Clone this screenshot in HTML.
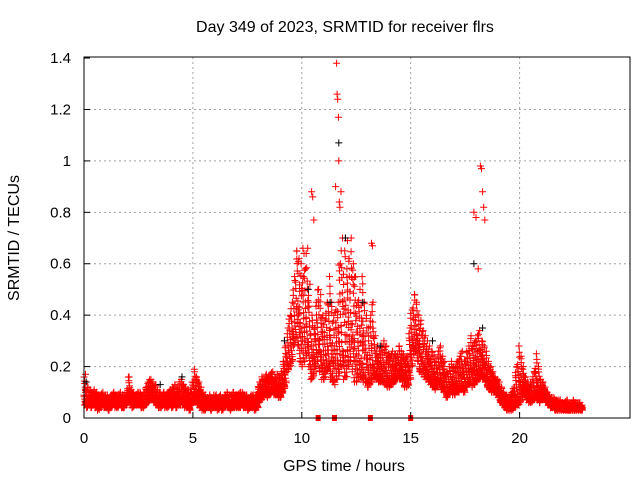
<!DOCTYPE html>
<html><head><meta charset="utf-8"><style>
body{margin:0;background:#fff}
svg{display:block;font-family:"Liberation Sans",sans-serif}
</style></head><body>
<svg id="chart" width="640" height="480">
<text x="345" y="32" text-anchor="middle" font-size="16">Day 349 of 2023, SRMTID for receiver flrs</text>
<text x="344" y="471" text-anchor="middle" font-size="16">GPS time / hours</text>
<text transform="translate(19,238) rotate(-90)" text-anchor="middle" font-size="16">SRMTID / TECUs</text>
<g id="grid"></g><g id="marks"></g><g id="axes"></g>
</svg>
<script>
const xTicks=[0,5,10,15,20];
const yTicks=[0,0.2,0.4,0.6,0.8,1,1.2,1.4];
const yTickLabels=["0","0.2","0.4","0.6","0.8","1","1.2","1.4"];
// per 0.1-hour bins starting at 0h: lower and upper envelope of SRMTID
const binLo=[
0.05,0.04,0.05,0.04,0.05,0.04,0.03,0.04,0.05,0.04,
0.04,0.03,0.04,0.05,0.04,0.04,0.05,0.04,0.04,0.05,
0.06,0.05,0.04,0.05,0.05,0.05,0.04,0.04,0.05,0.06,
0.07,0.07,0.06,0.05,0.04,0.04,0.05,0.04,0.04,0.05,
0.04,0.05,0.04,0.05,0.05,0.05,0.04,0.04,0.03,0.05,
0.06,0.07,0.05,0.04,0.03,0.03,0.04,0.04,0.03,0.04,
0.04,0.03,0.04,0.03,0.04,0.05,0.04,0.03,0.04,0.04,
0.04,0.04,0.05,0.04,0.04,0.03,0.04,0.04,0.03,0.04,
0.06,0.07,0.08,0.09,0.08,0.09,0.10,0.09,0.09,0.08,
0.08,0.10,0.12,0.18,0.20,0.22,0.28,0.30,0.28,0.22,
0.20,0.22,0.25,0.20,0.15,0.16,0.20,0.22,0.18,0.15,
0.15,0.18,0.20,0.15,0.14,0.13,0.15,0.18,0.20,0.15,
0.16,0.20,0.22,0.18,0.14,0.14,0.16,0.15,0.14,0.14,
0.12,0.13,0.14,0.15,0.15,0.14,0.14,0.14,0.13,0.12,
0.12,0.13,0.14,0.15,0.16,0.15,0.14,0.12,0.12,0.15,
0.20,0.25,0.26,0.22,0.18,0.17,0.16,0.15,0.14,0.13,
0.12,0.11,0.12,0.13,0.11,0.10,0.08,0.09,0.10,0.09,
0.09,0.10,0.10,0.11,0.10,0.12,0.13,0.14,0.12,0.13,
0.14,0.15,0.16,0.15,0.14,0.12,0.11,0.10,0.10,0.09,
0.08,0.06,0.05,0.04,0.03,0.03,0.03,0.04,0.05,0.05,
0.06,0.08,0.09,0.07,0.06,0.06,0.07,0.08,0.07,0.06,
0.07,0.08,0.06,0.05,0.04,0.04,0.03,0.03,0.03,0.03,
0.03,0.03,0.03,0.03,0.03,0.03,0.03,0.03,0.03];
const binHi=[
0.17,0.12,0.11,0.10,0.11,0.10,0.09,0.09,0.10,0.09,
0.09,0.08,0.09,0.10,0.09,0.09,0.10,0.09,0.09,0.10,
0.16,0.11,0.10,0.09,0.10,0.10,0.09,0.10,0.12,0.14,
0.15,0.14,0.13,0.11,0.10,0.09,0.10,0.09,0.10,0.11,
0.12,0.13,0.12,0.14,0.15,0.13,0.12,0.11,0.10,0.14,
0.19,0.16,0.14,0.12,0.10,0.09,0.08,0.09,0.08,0.09,
0.09,0.08,0.09,0.08,0.09,0.10,0.09,0.09,0.10,0.09,
0.09,0.10,0.10,0.09,0.09,0.08,0.09,0.09,0.08,0.10,
0.14,0.16,0.15,0.17,0.16,0.17,0.18,0.16,0.17,0.16,
0.18,0.22,0.28,0.35,0.40,0.45,0.55,0.65,0.62,0.60,
0.55,0.58,0.66,0.52,0.40,0.35,0.45,0.50,0.48,0.40,
0.38,0.45,0.55,0.45,0.40,0.42,0.45,0.60,0.70,0.65,
0.58,0.62,0.70,0.60,0.55,0.45,0.50,0.55,0.45,0.40,
0.35,0.40,0.45,0.32,0.28,0.26,0.28,0.30,0.28,0.25,
0.24,0.26,0.25,0.24,0.28,0.26,0.25,0.22,0.24,0.35,
0.42,0.48,0.45,0.40,0.38,0.34,0.32,0.30,0.28,0.26,
0.24,0.22,0.26,0.28,0.24,0.22,0.18,0.20,0.22,0.20,
0.20,0.22,0.24,0.26,0.22,0.26,0.28,0.32,0.28,0.30,
0.32,0.34,0.30,0.28,0.26,0.22,0.20,0.18,0.16,0.15,
0.14,0.12,0.10,0.09,0.08,0.08,0.10,0.12,0.20,0.28,
0.24,0.20,0.16,0.14,0.12,0.14,0.18,0.25,0.20,0.15,
0.14,0.12,0.10,0.09,0.08,0.08,0.07,0.07,0.07,0.06,
0.06,0.07,0.06,0.06,0.07,0.06,0.06,0.06,0.05];
// isolated spikes: time (h), value
const spikeT=[10.45,10.5,10.55,11.55,11.6,11.62,11.65,11.68,11.7,11.72,11.75,11.8,12.0,12.1,13.2,13.25,10.05,10.1,17.9,18.0,18.2,18.25,18.3,18.35,18.4,18.1];
const spikeV=[0.88,0.86,0.77,0.9,1.38,1.26,1.24,1.17,1.0,0.84,0.82,0.88,0.7,0.69,0.68,0.67,0.66,0.64,0.8,0.78,0.98,0.97,0.88,0.82,0.77,0.58];
// black (other satellite) points
const blackT=[0.1,3.5,4.5,9.2,10.3,11.3,11.7,12.0,12.8,17.9,18.3,13.6,16.0];
const blackV=[0.14,0.13,0.16,0.3,0.5,0.45,1.07,0.7,0.45,0.6,0.35,0.28,0.3];
// gap markers on axis
const gapT=[10.75,11.5,13.15,15.0];

const X0=84,XS=21.78,Y0=418,YS=257.1;
const xs=t=>X0+t*XS, ys=v=>Y0-v*YS;
const NS="http://www.w3.org/2000/svg";
function mk(tag,attrs,parent){const e=document.createElementNS(NS,tag);for(const k in attrs)e.setAttribute(k,attrs[k]);parent.appendChild(e);return e;}
const grid=document.getElementById('grid'),marks=document.getElementById('marks'),axes=document.getElementById('axes');
xTicks.forEach(t=>{if(t>0){const l=mk('line',{x1:xs(t),x2:xs(t),y1:57,y2:418,stroke:'#a0a0a0','stroke-dasharray':'2,3'},grid);

}
const tx=mk('text',{x:xs(t),y:443,'text-anchor':'middle','font-size':15},axes);tx.textContent=t;


mk('line',{x1:xs(t),x2:xs(t),y1:418,y2:412,stroke:'#000'},axes);});
yTicks.forEach((v,i)=>{if(v>0&&v<1.4){const l=mk('line',{x1:84,x2:630,y1:ys(v),y2:ys(v),stroke:'#a0a0a0','stroke-dasharray':'2,3'},grid);

}
const tx=mk('text',{x:71,y:ys(v)+5,'text-anchor':'end','font-size':15},axes);tx.textContent=yTickLabels[i];


mk('line',{x1:84,x2:90,y1:ys(v),y2:ys(v),stroke:'#000'},axes);});
const fr=mk('rect',{x:84,y:57,width:546,height:361,fill:'none',stroke:'#000','stroke-width':1},axes);


let d='';
function cross(t,v){const x=xs(t),y=ys(v);return `M${(x-3.5).toFixed(1)} ${y.toFixed(1)}h7M${x.toFixed(1)} ${(y-3.5).toFixed(1)}v7`;}
// fill each bin with evenly spread (low-discrepancy) crosses between its envelope
const PHI=0.6180339887;
let q=0;
binLo.forEach((lo,i)=>{const hi=binHi[i];const n=14;for(let k=0;k<n;k++){q++;const f=(q*PHI)%1;const g=(q*0.7548776662)%1;const w=f*f*0.6+f*0.4;d+=cross(i*0.1+g*0.1,lo+(hi-lo)*w);}
d+=cross(i*0.1+0.02,lo);d+=cross(i*0.1+0.07,hi);});
spikeT.forEach((t,i)=>{d+=cross(t,spikeV[i]);});
const red=mk('path',{d:d,stroke:'#ff0000','stroke-width':1,fill:'none'},marks);


let db='';blackT.forEach((t,i)=>{db+=cross(t,blackV[i]);});
const blk=mk('path',{d:db,stroke:'#000','stroke-width':1,fill:'none'},marks);


gapT.forEach(t=>{const r=mk('rect',{x:xs(t)-2.5,y:415,width:5,height:6,fill:'#ff0000'},marks);

});
</script>
</body></html>
